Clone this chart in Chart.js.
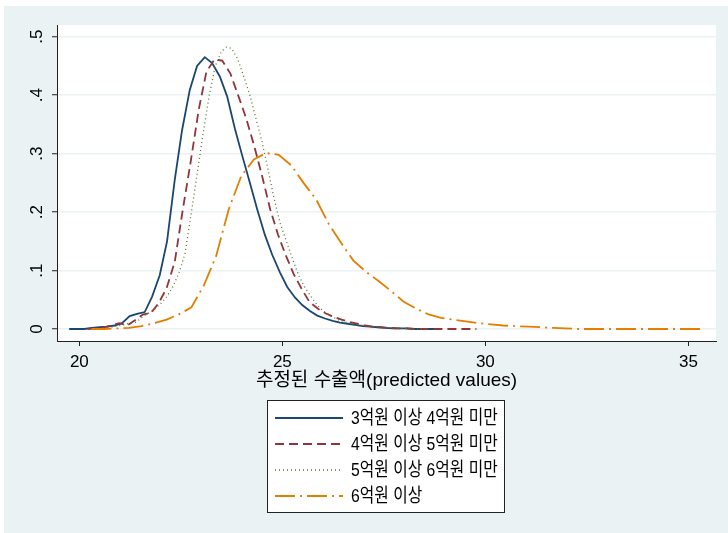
<!DOCTYPE html>
<html>
<head>
<meta charset="utf-8">
<script src="https://cdn.jsdelivr.net/npm/chart.js@4.4.1/dist/chart.umd.min.js"></script>
<style>
  html, body { margin: 0; padding: 0; background: #ffffff; }
  canvas { display: block; }
</style>
</head>
<body>
<canvas id="kd" width="728" height="533"></canvas>
<script>
// Kernel density of predicted export values, by sales band
const seriesNames = ['3억원 이상 4억원 미만', '4억원 이상 5억원 미만', '5억원 이상 6억원 미만', '6억원 이상'];
const xTickValues = [20, 25, 30, 35];
const yTickValues = [0, 0.1, 0.2, 0.3, 0.4, 0.5];
const yTickLabels = ['0', '.1', '.2', '.3', '.4', '.5'];
const xAxisTitle = '추정된 수출액(predicted values)';

const band34X = [19.75, 20.12, 20.31, 20.50, 20.68, 20.87, 21.05, 21.24, 21.42, 21.61, 21.79, 21.98, 22.16, 22.35, 22.53,
  22.72, 22.90, 23.09, 23.27, 23.46, 23.64, 23.83, 24.01, 24.20, 24.38, 24.57, 24.75, 24.94, 25.12, 25.31,
  25.49, 25.68, 25.86, 26.05, 26.24, 26.42, 26.61, 26.79, 26.98, 27.16, 27.35, 27.53, 27.72, 27.90, 28.09,
  28.27, 28.46, 28.65, 28.84];
const band34Y = [0.000, 0.000, 0.002, 0.003, 0.004, 0.006, 0.010, 0.022, 0.026, 0.029, 0.055, 0.092, 0.150, 0.255, 0.340,
  0.409, 0.450, 0.465, 0.455, 0.432, 0.398, 0.343, 0.297, 0.250, 0.205, 0.161, 0.127, 0.097, 0.072, 0.054,
  0.041, 0.031, 0.023, 0.018, 0.014, 0.011, 0.009, 0.007, 0.005, 0.004, 0.003, 0.002, 0.001, 0.001, 0.001,
  0.000, 0.000, 0.000, 0.000];

const band45X = [20.20, 20.40, 20.59, 20.79, 20.98, 21.18, 21.37, 21.57, 21.76, 21.96, 22.15, 22.35, 22.55, 22.74, 22.94,
  23.13, 23.33, 23.52, 23.72, 23.91, 24.11, 24.30, 24.50, 24.70, 24.89, 25.09, 25.28, 25.48, 25.67, 25.87,
  26.06, 26.26, 26.46, 26.65, 26.85, 27.04, 27.24, 27.43, 27.63, 27.83, 28.02, 28.22, 28.61, 29.00, 29.39, 29.78];
const band45Y = [0.000, 0.001, 0.003, 0.006, 0.010, 0.006, 0.015, 0.025, 0.027, 0.045, 0.070, 0.115, 0.205, 0.285, 0.375,
  0.440, 0.461, 0.459, 0.437, 0.400, 0.360, 0.315, 0.262, 0.205, 0.162, 0.125, 0.094, 0.068, 0.046, 0.035,
  0.027, 0.021, 0.016, 0.012, 0.009, 0.006, 0.004, 0.003, 0.002, 0.001, 0.001, 0.000, 0.000, 0.000, 0.000, 0.000];

const band56X = [20.40, 20.70, 21.00, 21.20, 21.40, 21.60, 21.80, 22.00, 22.15, 22.30, 22.45, 22.60, 22.75, 22.90, 23.05,
  23.20, 23.35, 23.50, 23.62, 23.75, 23.90, 24.05, 24.20, 24.35, 24.50, 24.65, 24.80, 24.95, 25.10, 25.25,
  25.40, 25.55, 25.70, 25.85, 26.00, 26.20, 26.40, 26.60, 26.80, 27.00, 27.30, 27.60, 27.90, 28.20, 28.60];
const band56Y = [0.000, 0.002, 0.006, 0.009, 0.012, 0.023, 0.031, 0.043, 0.055, 0.072, 0.095, 0.128, 0.195, 0.265, 0.335,
  0.400, 0.450, 0.475, 0.482, 0.480, 0.462, 0.432, 0.400, 0.360, 0.320, 0.272, 0.222, 0.180, 0.150, 0.120,
  0.092, 0.072, 0.056, 0.042, 0.031, 0.022, 0.015, 0.011, 0.008, 0.006, 0.004, 0.002, 0.001, 0.000, 0.000];

const band6X = [20.30, 20.61, 20.92, 21.22, 21.53, 21.84, 22.15, 22.45, 22.76, 23.07, 23.37, 23.68, 23.99, 24.30, 24.60,
  24.91, 25.22, 25.52, 25.83, 26.14, 26.45, 26.75, 27.06, 27.37, 27.68, 27.98, 28.29, 28.60, 28.91, 29.21,
  29.52, 29.83, 30.14, 30.44, 30.75, 31.06, 31.37, 31.67, 31.98, 32.29, 32.90, 33.52, 34.13, 34.75, 35.36];
const band6Y = [0.000, 0.000, 0.001, 0.002, 0.005, 0.010, 0.016, 0.025, 0.037, 0.075, 0.125, 0.205, 0.262, 0.290, 0.301,
  0.298, 0.280, 0.250, 0.222, 0.180, 0.147, 0.117, 0.098, 0.082, 0.065, 0.047, 0.035, 0.025, 0.019, 0.016,
  0.013, 0.010, 0.008, 0.006, 0.005, 0.004, 0.003, 0.002, 0.001, 0.000, 0.000, 0.000, 0.000, 0.000, 0.000];

const lineColors = ['#1a476f', '#90353b', '#55752f', '#e37e00'];
const lineDashes = [[], [9, 5], [1, 3], [20, 5, 2, 5]];
const lineWidths = [1.8, 1.8, 1.3, 1.8];

const toPoints = (xs, ys) => xs.map((x, i) => ({ x: x, y: ys[i] }));
const seriesPoints = [toPoints(band34X, band34Y), toPoints(band45X, band45Y),
                      toPoints(band56X, band56Y), toPoints(band6X, band6Y)];

const PAGE_BG = '#eaf2f3';
const LATIN_KR = '"Liberation Sans", "Noto Sans CJK KR", sans-serif';

function condensedText(ctx, s, x, y, sx, align) {
  ctx.save();
  ctx.translate(x, y);
  ctx.scale(sx, 1);
  ctx.textAlign = align;
  ctx.textBaseline = 'middle';
  ctx.fillText(s, 0, 0);
  ctx.restore();
}

const frame = {
  id: 'frame',
  beforeDraw(chart) {
    const { ctx, chartArea: a } = chart;
    ctx.save();
    ctx.fillStyle = '#ffffff';
    ctx.fillRect(0, 0, chart.width, chart.height);
    ctx.fillStyle = PAGE_BG;
    ctx.fillRect(4, 6, chart.width - 4, chart.height - 6);
    ctx.fillStyle = '#ffffff';
    ctx.fillRect(a.left, a.top, a.right - a.left, a.bottom - a.top);
    ctx.restore();
  },
  afterDraw(chart) {
    const { ctx } = chart;
    const ys = chart.scales.y;
    const xs = chart.scales.x;
    ctx.save();
    ctx.fillStyle = '#000000';
    // rotated y tick labels
    ctx.font = '17px ' + LATIN_KR;
    yTickValues.forEach((v, i) => {
      const py = ys.getPixelForValue(v);
      ctx.save();
      ctx.translate(37, py);
      ctx.rotate(-Math.PI / 2);
      ctx.textAlign = 'center';
      ctx.textBaseline = 'middle';
      ctx.fillText(yTickLabels[i], 0, 0);
      ctx.restore();
    });
    // x axis title
    ctx.font = '19px ' + LATIN_KR;
    condensedText(ctx, xAxisTitle, (xs.left + xs.right) / 2, 381, 1.0, 'center');

    // legend box
    const bx = 267.5, by = 400.5, bw = 237, bh = 112;
    ctx.fillStyle = '#ffffff';
    ctx.fillRect(bx, by, bw, bh);
    ctx.strokeStyle = '#222222';
    ctx.lineWidth = 1;
    ctx.strokeRect(bx, by, bw, bh);
    const rowY = [418, 444, 470, 496];
    seriesNames.forEach((name, i) => {
      ctx.save();
      ctx.strokeStyle = lineColors[i];
      ctx.lineWidth = lineWidths[i];
      ctx.setLineDash(lineDashes[i]);
      ctx.beginPath();
      ctx.moveTo(275, rowY[i]);
      ctx.lineTo(343, rowY[i]);
      ctx.stroke();
      ctx.restore();
      ctx.fillStyle = '#000000';
      ctx.font = '19px ' + LATIN_KR;
      condensedText(ctx, name, 351, rowY[i] + 1, 0.83, 'left');
    });
    ctx.restore();
  }
};

new Chart(document.getElementById('kd'), {
  type: 'scatter',
  data: {
    datasets: seriesNames.map((name, i) => ({
      label: name,
      data: seriesPoints[i],
      showLine: true,
      borderColor: lineColors[i],
      borderWidth: lineWidths[i],
      borderDash: lineDashes[i],
      pointRadius: 0,
      fill: false,
      tension: 0,
      order: 4 - i
    }))
  },
  options: {
    responsive: false,
    animation: false,
    devicePixelRatio: 1,
    layout: { padding: { left: 0, top: 25, right: 12, bottom: 0 } },
    plugins: { legend: { display: false }, tooltip: { enabled: false } },
    scales: {
      x: {
        type: 'linear',
        min: 19.45,
        max: 35.68,
        afterBuildTicks: s => { s.ticks = xTickValues.map(v => ({ value: v })); },
        afterFit: s => { s.height = 192; },
        border: { display: true, color: '#222222', width: 1 },
        grid: { drawOnChartArea: false, drawTicks: true, tickLength: 5, tickColor: '#222222', tickWidth: 1 },
        ticks: { color: '#000000', font: { family: LATIN_KR, size: 17 }, padding: 6, maxRotation: 0, autoSkip: false }
      },
      y: {
        type: 'linear',
        min: -0.0205,
        max: 0.52,
        afterBuildTicks: s => { s.ticks = yTickValues.map(v => ({ value: v })); },
        afterFit: s => { s.width = 57; },
        border: { display: true, color: '#222222', width: 1 },
        grid: { color: PAGE_BG, lineWidth: 1.5, drawTicks: true, tickLength: 5, tickColor: '#222222', tickWidth: 1 },
        ticks: { display: false }
      }
    }
  },
  plugins: [frame]
});
</script>
</body>
</html>
